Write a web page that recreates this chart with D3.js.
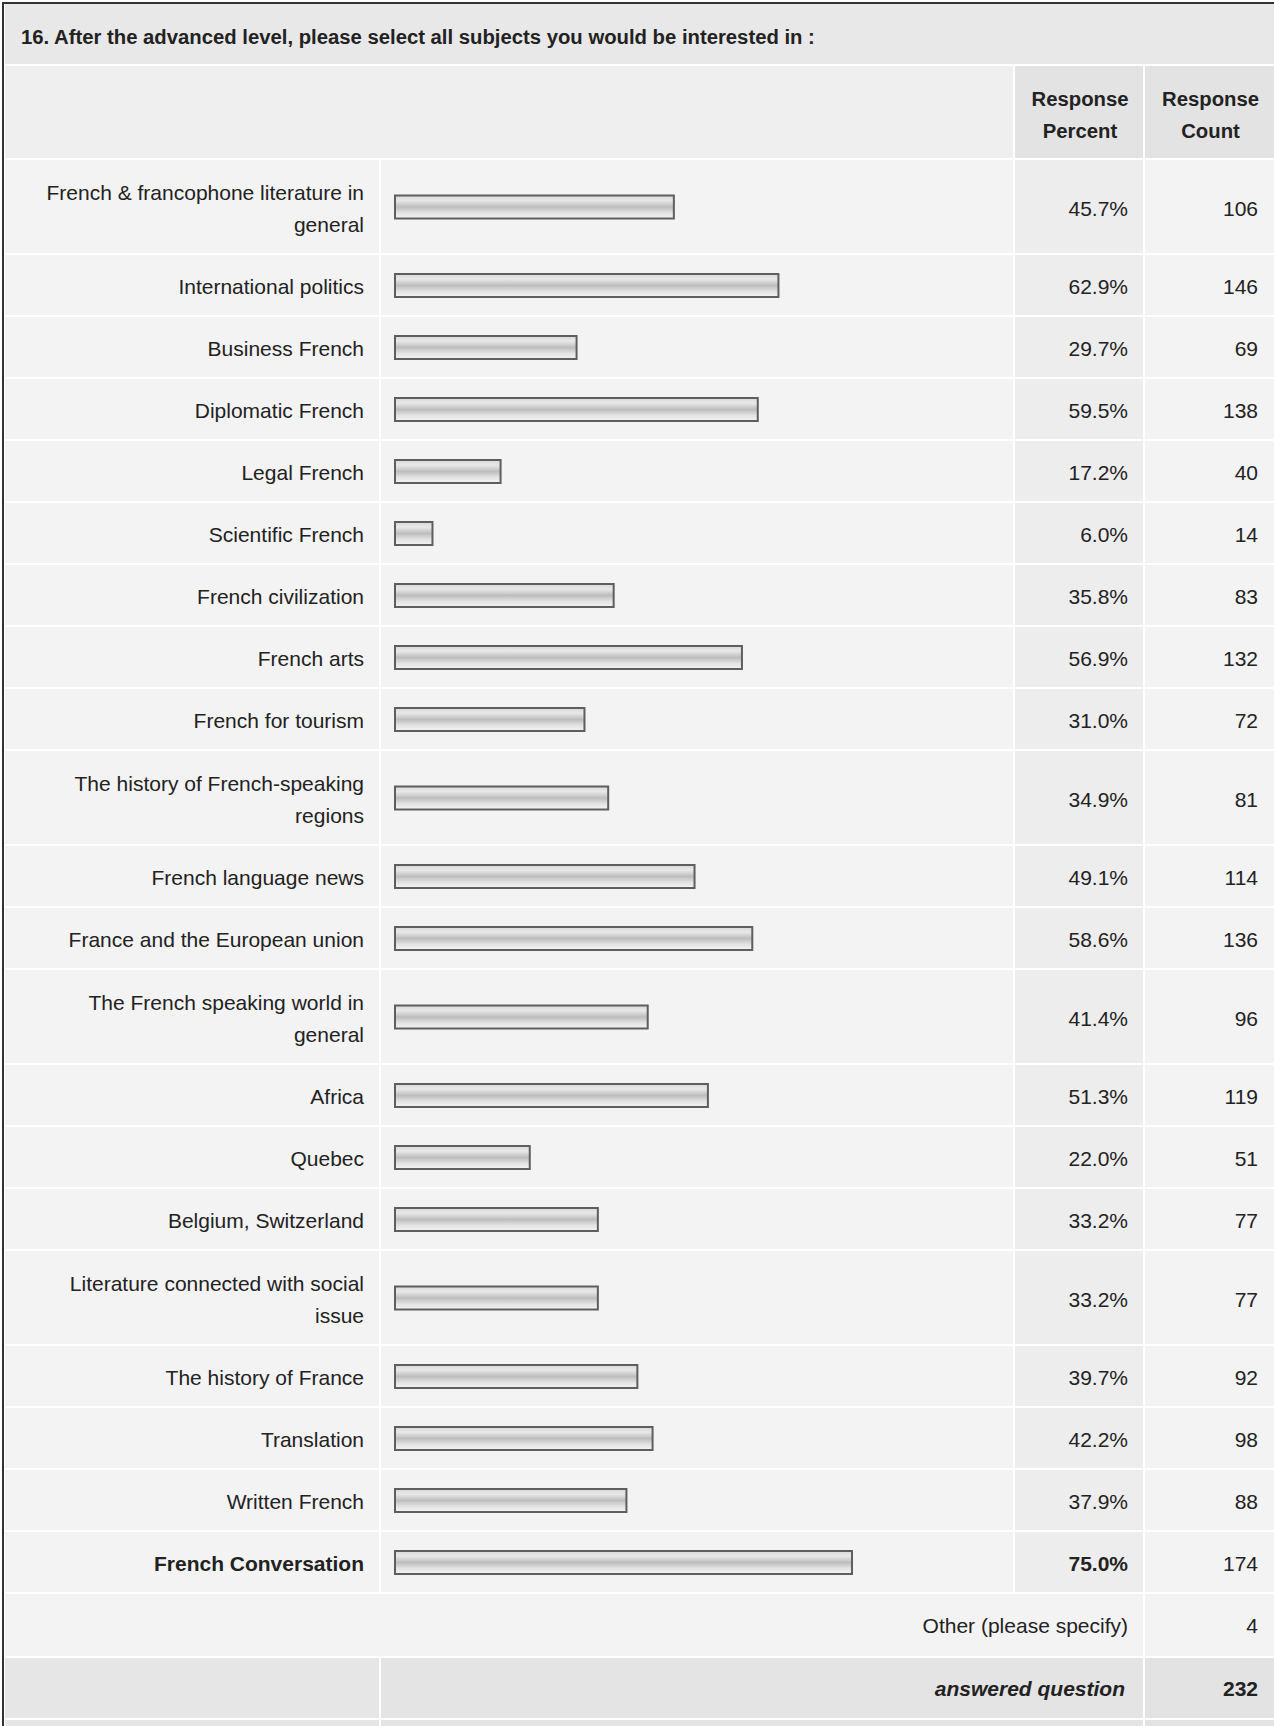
<!DOCTYPE html>
<html>
<head>
<meta charset="utf-8">
<script src="https://cdn.jsdelivr.net/npm/d3@7"></script>
<style>
  body { margin: 0; background: #fff; }
  svg text { font-family: "Liberation Sans", Arial, sans-serif; fill: #222; }
</style>
</head>
<body>
<svg id="chart" width="1274" height="1726"></svg>
<script>
// Data
const title = "16. After the advanced level, please select all subjects you would be interested in :";
const headers = [["Response", "Percent"], ["Response", "Count"]];
const subjects = [
  "French & francophone literature in general",
  "International politics",
  "Business French",
  "Diplomatic French",
  "Legal French",
  "Scientific French",
  "French civilization",
  "French arts",
  "French for tourism",
  "The history of French-speaking regions",
  "French language news",
  "France and the European union",
  "The French speaking world in general",
  "Africa",
  "Quebec",
  "Belgium, Switzerland",
  "Literature connected with social issue",
  "The history of France",
  "Translation",
  "Written French",
  "French Conversation"
];
const percents = [45.7, 62.9, 29.7, 59.5, 17.2, 6.0, 35.8, 56.9, 31.0, 34.9, 49.1, 58.6, 41.4, 51.3, 22.0, 33.2, 33.2, 39.7, 42.2, 37.9, 75.0];
const counts = [106, 146, 69, 138, 40, 14, 83, 132, 72, 81, 114, 136, 96, 119, 51, 77, 77, 92, 98, 88, 174];
const otherLabel = "Other (please specify)";
const otherCount = 4;
const answeredLabel = "answered question";
const answeredCount = 232;

const W = 1274, H = 1726;
const svg = d3.select("#chart");

// columns
const col = {
  label: [5, 379],
  bar: [381, 1013],
  pct: [1015, 1143],
  cnt: [1145, 1274]
};
const gap = 2;
const fs = 21;

// bar end scale (bars start 3px left of zero for the border)
const x = d3.scaleLinear().domain([0, 100]).range([397, 1005]);
const fmtPct = d3.format(".1f");
const maxPct = d3.max(percents);

// gradient for bars
const defs = svg.append("defs");
const grad = defs.append("linearGradient")
  .attr("id", "barGrad")
  .attr("x1", 0).attr("y1", 0).attr("x2", 0).attr("y2", 1);
[[0, "#d8d8d8"], [0.22, "#e8e8e8"], [0.5, "#bdbdbd"], [0.75, "#e2e2e2"], [1, "#f4f4f4"]]
  .forEach(s => grad.append("stop").attr("offset", s[0]).attr("stop-color", s[1]));

// word wrap helper
const measurer = svg.append("text").attr("font-size", fs).attr("visibility", "hidden");
function wrapLines(str, maxW) {
  const words = str.split(" ");
  const lines = [];
  let cur = "";
  words.forEach(w => {
    const test = cur ? cur + " " + w : w;
    measurer.text(test);
    if (measurer.node().getComputedTextLength() > maxW && cur) {
      lines.push(cur);
      cur = w;
    } else {
      cur = test;
    }
  });
  lines.push(cur);
  return lines;
}

// build row layout
let yPos = 160;
const rows = subjects.map((s, i) => {
  const lines = wrapLines(s, 335);
  const h = lines.length > 1 ? 95 : 62;
  const r = { label: s, lines: lines, pct: percents[i], cnt: counts[i], y: yPos, h: h };
  yPos += h;
  return r;
});
measurer.remove();

// page background
svg.insert("rect", "defs").attr("width", W).attr("height", H).attr("fill", "#ffffff");

// title band
svg.append("rect").attr("x", 5).attr("y", 4).attr("width", W - 5).attr("height", 60).attr("fill", "#e8e8e8");
svg.append("text")
  .attr("x", 21).attr("y", 44)
  .attr("font-size", 20.3).attr("font-weight", "bold")
  .text(title);

// header row
svg.append("rect").attr("x", col.label[0]).attr("y", 66)
  .attr("width", col.bar[1] - col.label[0]).attr("height", 92).attr("fill", "#efefef");
[col.pct, col.cnt].forEach((c, i) => {
  svg.append("rect").attr("x", c[0]).attr("y", 66)
    .attr("width", c[1] - c[0]).attr("height", 92).attr("fill", "#e3e3e3");
  headers[i].forEach((t, j) => {
    svg.append("text")
      .attr("x", (c[0] + c[1]) / 2 + 1).attr("y", 106 + j * 32)
      .attr("text-anchor", "middle")
      .attr("font-size", 20.3).attr("font-weight", "bold")
      .text(t);
  });
});

// data rows
const rowG = svg.append("g").selectAll("g")
  .data(rows)
  .enter()
  .append("g");

rowG.append("rect")
  .attr("x", col.label[0]).attr("y", d => d.y)
  .attr("width", col.label[1] - col.label[0]).attr("height", d => d.h - gap)
  .attr("fill", "#f3f3f3");
rowG.append("rect")
  .attr("x", col.bar[0]).attr("y", d => d.y)
  .attr("width", col.bar[1] - col.bar[0]).attr("height", d => d.h - gap)
  .attr("fill", "#f3f3f3");
rowG.append("rect")
  .attr("x", col.pct[0]).attr("y", d => d.y)
  .attr("width", col.pct[1] - col.pct[0]).attr("height", d => d.h - gap)
  .attr("fill", "#ededed");
rowG.append("rect")
  .attr("x", col.cnt[0]).attr("y", d => d.y)
  .attr("width", col.cnt[1] - col.cnt[0]).attr("height", d => d.h - gap)
  .attr("fill", "#f3f3f3");

// labels
rowG.each(function (d) {
  const g = d3.select(this);
  const cy = d.y + (d.h - gap) / 2;
  const n = d.lines.length;
  d.lines.forEach((ln, j) => {
    g.append("text")
      .attr("x", 364)
      .attr("y", cy + 9 + (j - (n - 1) / 2) * 32)
      .attr("text-anchor", "end")
      .attr("font-size", fs)
      .attr("font-weight", d.pct === maxPct ? "bold" : "normal")
      .text(ln);
  });
});

// bars
rowG.append("rect")
  .attr("x", x(0) - 2)
  .attr("y", d => d.y + (d.h - gap) / 2 - 11)
  .attr("width", d => x(d.pct) - x(0) + 1)
  .attr("height", 23)
  .attr("fill", "url(#barGrad)")
  .attr("stroke", "#5e5e5e")
  .attr("stroke-width", 2);

// percent & count
rowG.append("text")
  .attr("x", 1128)
  .attr("y", d => d.y + (d.h - gap) / 2 + 9)
  .attr("text-anchor", "end")
  .attr("font-size", fs)
  .attr("font-weight", d => d.pct === maxPct ? "bold" : "normal")
  .text(d => fmtPct(d.pct) + "%");
rowG.append("text")
  .attr("x", 1258)
  .attr("y", d => d.y + (d.h - gap) / 2 + 9)
  .attr("text-anchor", "end")
  .attr("font-size", fs)
  .text(d => d.cnt);

// other row
const oy = yPos, oh = 64;
svg.append("rect").attr("x", col.label[0]).attr("y", oy)
  .attr("width", col.pct[1] - col.label[0]).attr("height", oh - gap).attr("fill", "#f3f3f3");
svg.append("rect").attr("x", col.cnt[0]).attr("y", oy)
  .attr("width", col.cnt[1] - col.cnt[0]).attr("height", oh - gap).attr("fill", "#f3f3f3");
svg.append("text").attr("x", 1128).attr("y", oy + (oh - gap) / 2 + 8)
  .attr("text-anchor", "end").attr("font-size", fs).text(otherLabel);
svg.append("text").attr("x", 1258).attr("y", oy + (oh - gap) / 2 + 8)
  .attr("text-anchor", "end").attr("font-size", fs).text(otherCount);

// answered row
const ay = oy + oh, ah = 62;
svg.append("rect").attr("x", col.label[0]).attr("y", ay)
  .attr("width", col.label[1] - col.label[0]).attr("height", ah - gap).attr("fill", "#e6e6e6");
svg.append("rect").attr("x", col.bar[0]).attr("y", ay)
  .attr("width", col.pct[1] - col.bar[0]).attr("height", ah - gap).attr("fill", "#e4e4e4");
svg.append("rect").attr("x", col.cnt[0]).attr("y", ay)
  .attr("width", col.cnt[1] - col.cnt[0]).attr("height", ah - gap).attr("fill", "#e3e3e3");
svg.append("text").attr("x", 1125).attr("y", ay + (ah - gap) / 2 + 8)
  .attr("text-anchor", "end").attr("font-size", fs)
  .attr("font-style", "italic").attr("font-weight", "bold").text(answeredLabel);
svg.append("text").attr("x", 1258).attr("y", ay + (ah - gap) / 2 + 8)
  .attr("text-anchor", "end").attr("font-size", fs)
  .attr("font-weight", "bold").text(answeredCount);

// next (cut off) row
const ny = ay + ah;
svg.append("rect").attr("x", col.label[0]).attr("y", ny)
  .attr("width", col.label[1] - col.label[0]).attr("height", H - ny).attr("fill", "#e6e6e6");
svg.append("rect").attr("x", col.bar[0]).attr("y", ny)
  .attr("width", col.pct[1] - col.bar[0]).attr("height", H - ny).attr("fill", "#e4e4e4");
svg.append("rect").attr("x", col.cnt[0]).attr("y", ny)
  .attr("width", col.cnt[1] - col.cnt[0]).attr("height", H - ny).attr("fill", "#e3e3e3");

// outer border
svg.append("line").attr("x1", 2).attr("x2", W).attr("y1", 3).attr("y2", 3)
  .attr("stroke", "#333").attr("stroke-width", 2);
svg.append("line").attr("x1", 3).attr("x2", 3).attr("y1", 2).attr("y2", H)
  .attr("stroke", "#333").attr("stroke-width", 2);
</script>
</body>
</html>
